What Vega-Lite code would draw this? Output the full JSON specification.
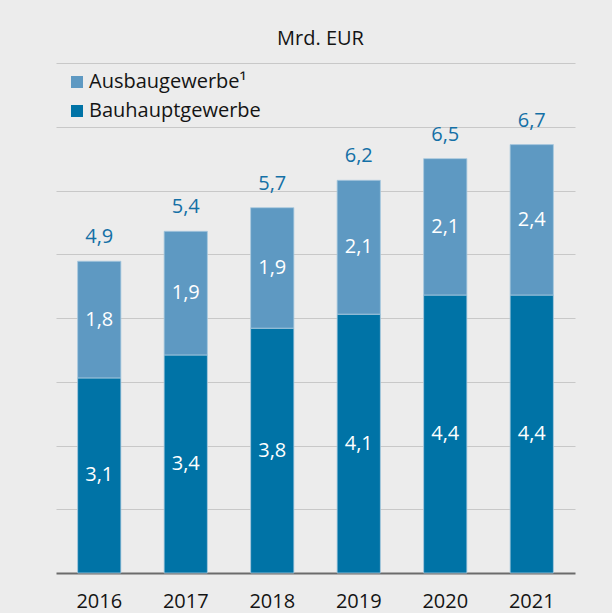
{
  "$schema": "https://vega.github.io/schema/vega-lite/v6.json",
  "width": 519,
  "height": 510,
  "autosize": {"type": "none"},
  "padding": {"left": 56, "top": 63, "right": 37, "bottom": 40},
  "background": "#ececec",
  "config": {
    "view": {"stroke": null},
    "font": "Open Sans",
    "locale": {"number": {"decimal": ",", "thousands": ".", "grouping": [3], "currency": ["", " €"]}}
  },
  "title": {"text": "Mrd. EUR", "fontSize": 20, "fontWeight": "normal", "color": "#141414", "anchor": "middle", "dx": 5, "offset": 14, "font": "Open Sans"},
  "data": {
    "values": [
      {"year": "2016", "series": "Bauhauptgewerbe", "idx": 1, "value": 3.06},
      {"year": "2016", "series": "Ausbaugewerbe¹", "idx": 2, "value": 1.83},
      {"year": "2017", "series": "Bauhauptgewerbe", "idx": 1, "value": 3.42},
      {"year": "2017", "series": "Ausbaugewerbe¹", "idx": 2, "value": 1.94},
      {"year": "2018", "series": "Bauhauptgewerbe", "idx": 1, "value": 3.84},
      {"year": "2018", "series": "Ausbaugewerbe¹", "idx": 2, "value": 1.89},
      {"year": "2019", "series": "Bauhauptgewerbe", "idx": 1, "value": 4.06},
      {"year": "2019", "series": "Ausbaugewerbe¹", "idx": 2, "value": 2.1},
      {"year": "2020", "series": "Bauhauptgewerbe", "idx": 1, "value": 4.36},
      {"year": "2020", "series": "Ausbaugewerbe¹", "idx": 2, "value": 2.14},
      {"year": "2021", "series": "Bauhauptgewerbe", "idx": 1, "value": 4.36},
      {"year": "2021", "series": "Ausbaugewerbe¹", "idx": 2, "value": 2.36}
    ]
  },
  "transform": [
    {"stack": "value", "groupby": ["year"], "sort": [{"field": "idx", "order": "ascending"}], "as": ["v0", "v1"]}
  ],
  "layer": [
    {
      "mark": {"type": "bar", "stroke": "#a9c9de", "strokeWidth": 1, "strokeOpacity": 0.8},
      "encoding": {
        "x": {
          "field": "year", "type": "ordinal",
          "scale": {"paddingInner": 0.5, "paddingOuter": 0.25},
          "axis": {"title": null, "labelFontSize": 20, "labelColor": "#141414", "labelAngle": 0, "tickSize": 0, "ticks": false, "domainColor": "#6b6b6b", "domainWidth": 2, "labelPadding": 18, "labelFont": "Open Sans"}
        },
        "y": {
          "field": "v0", "type": "quantitative",
          "scale": {"domain": [0, 8], "nice": false, "zero": true},
          "axis": {"title": null, "labels": false, "ticks": false, "domain": false, "grid": true, "gridColor": "#c8c8c8", "gridWidth": 1, "values": [1, 2, 3, 4, 5, 6, 7, 8]}
        },
        "y2": {"field": "v1"},
        "color": {
          "field": "series", "type": "nominal",
          "scale": {"domain": ["Ausbaugewerbe¹", "Bauhauptgewerbe"], "range": ["#5e99c2", "#0073a6"]},
          "legend": {"title": null, "orient": "none", "legendX": 11, "legendY": 9, "symbolType": "square", "symbolSize": 144, "symbolStrokeWidth": 0, "labelFontSize": 20, "labelColor": "#141414", "labelOffset": 2, "labelLimit": 0, "rowPadding": 9, "padding": 0, "symbolOpacity": 1, "labelFont": "Open Sans"}
        }
      }
    },
    {
      "transform": [{"calculate": "(datum.v0 + datum.v1) / 2", "as": "mid"}],
      "mark": {"type": "text", "color": "white", "fontSize": 20, "baseline": "middle", "font": "Open Sans"},
      "encoding": {
        "x": {"field": "year", "type": "ordinal"},
        "y": {"field": "mid", "type": "quantitative"},
        "text": {"field": "value", "type": "quantitative", "format": ".1f"}
      }
    },
    {
      "mark": {"type": "text", "color": "#1470a6", "fontSize": 20, "baseline": "alphabetic", "dy": -18, "font": "Open Sans"},
      "encoding": {
        "x": {"field": "year", "type": "ordinal"},
        "y": {"aggregate": "sum", "field": "value", "type": "quantitative"},
        "text": {"aggregate": "sum", "field": "value", "type": "quantitative", "format": ".1f"}
      }
    }
  ]
}
